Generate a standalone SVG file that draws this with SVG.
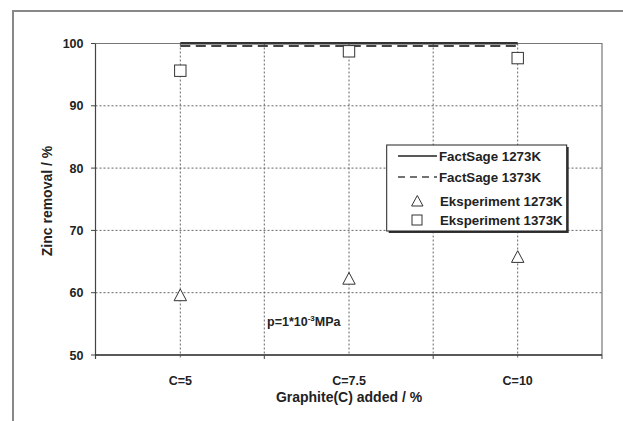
<svg xmlns="http://www.w3.org/2000/svg" width="623" height="421" viewBox="0 0 623 421">
<style>
text{font-family:"Liberation Sans",Arial,sans-serif;font-weight:bold;fill:#222}
.tick{font-size:12.5px}
.ytl{text-anchor:end}
.xtl{text-anchor:middle}
.title{font-size:14px;text-anchor:middle}
.leg{font-size:13.3px}
.grid{stroke:#666;stroke-width:1;stroke-dasharray:2 2;fill:none}
.mk{fill:#fff;stroke:#333;stroke-width:1}
</style>
<rect width="623" height="421" fill="#fff"/>
<g id="frame">
<path d="M13 421 V11 H623" fill="none" stroke="#888" stroke-width="2"/>
</g>
<g id="grid">
<path class="grid" d="M95.5 105.8H602M95.5 168.1H602M95.5 230.4H602M95.5 292.7H602"/>
<path class="grid" d="M180.3 43.5V359M264.3 43.5V355M349 43.5V355M433.2 43.5V355M517.7 43.5V359"/>
</g>
<g id="axes">
<path d="M95.5 43.5H602V355" fill="none" stroke="#777" stroke-width="1.2"/>
<path d="M95.5 43.5V359" fill="none" stroke="#444" stroke-width="1.2"/>
<path d="M95.5 355H602" fill="none" stroke="#222" stroke-width="1.5"/>
<path d="M91 43.5H95.5M91 105.8H95.5M91 168.1H95.5M91 230.4H95.5M91 292.7H95.5M91 355H95.5M264.3 355V359M433.2 355V359M602 355V359" stroke="#444" stroke-width="1"/>
<text class="tick ytl" x="83.5" y="48">100</text>
<text class="tick ytl" x="83.5" y="110.3">90</text>
<text class="tick ytl" x="83.5" y="172.6">80</text>
<text class="tick ytl" x="83.5" y="234.9">70</text>
<text class="tick ytl" x="83.5" y="297.2">60</text>
<text class="tick ytl" x="83.5" y="359.5">50</text>
<text class="tick xtl" x="180.3" y="385">C=5</text>
<text class="tick xtl" x="349" y="385">C=7.5</text>
<text class="tick xtl" x="517.7" y="385">C=10</text>
<text class="title" x="349" y="402">Graphite(C) added / %</text>
<text class="title" transform="translate(52 201) rotate(-90)">Zinc removal / %</text>
</g>
<g id="series">
<path id="fs1273" d="M180.3 43.3H517.7" stroke="#333" stroke-width="2.5" fill="none"/>
<path id="fs1373" d="M180.3 46H517.7" stroke="#444" stroke-width="2" stroke-dasharray="10 5.5" fill="none"/>
<g id="exp1273">
<path class="mk" d="M180.3 289L186.5 300.7H174.1Z"/>
<path class="mk" d="M349 272.5L355.2 284.2H342.8Z"/>
<path class="mk" d="M517.7 250.7L523.9 262.4H511.5Z"/>
</g>
<g id="exp1373">
<rect class="mk" x="174.6" y="65" width="11.4" height="11.4"/>
<rect class="mk" x="343.3" y="45.6" width="11.4" height="11.4"/>
<rect class="mk" x="512" y="52.4" width="11.4" height="11.4"/>
</g>
</g>
<text class="tick" x="267" y="326">p=1*10<tspan font-size="8" dy="-5">-3</tspan><tspan dy="5">MPa</tspan></text>
<g id="legend">
<rect x="388.7" y="147" width="180" height="86" fill="#333"/>
<rect x="386.7" y="145" width="180" height="86" fill="#fff" stroke="#222" stroke-width="1"/>
<path d="M398 156H437" stroke="#222" stroke-width="1.3"/>
<path d="M398 177H437" stroke="#444" stroke-width="1.5" stroke-dasharray="7 5"/>
<path class="mk" d="M417.3 195.5L423 206H411.6Z"/>
<rect class="mk" x="412" y="215" width="10" height="10"/>
<text class="leg" x="439" y="160.5">FactSage 1273K</text>
<text class="leg" x="439" y="181.5">FactSage 1373K</text>
<text class="leg" x="440" y="205.5">Eksperiment 1273K</text>
<text class="leg" x="440" y="225">Eksperiment 1373K</text>
</g>
</svg>
